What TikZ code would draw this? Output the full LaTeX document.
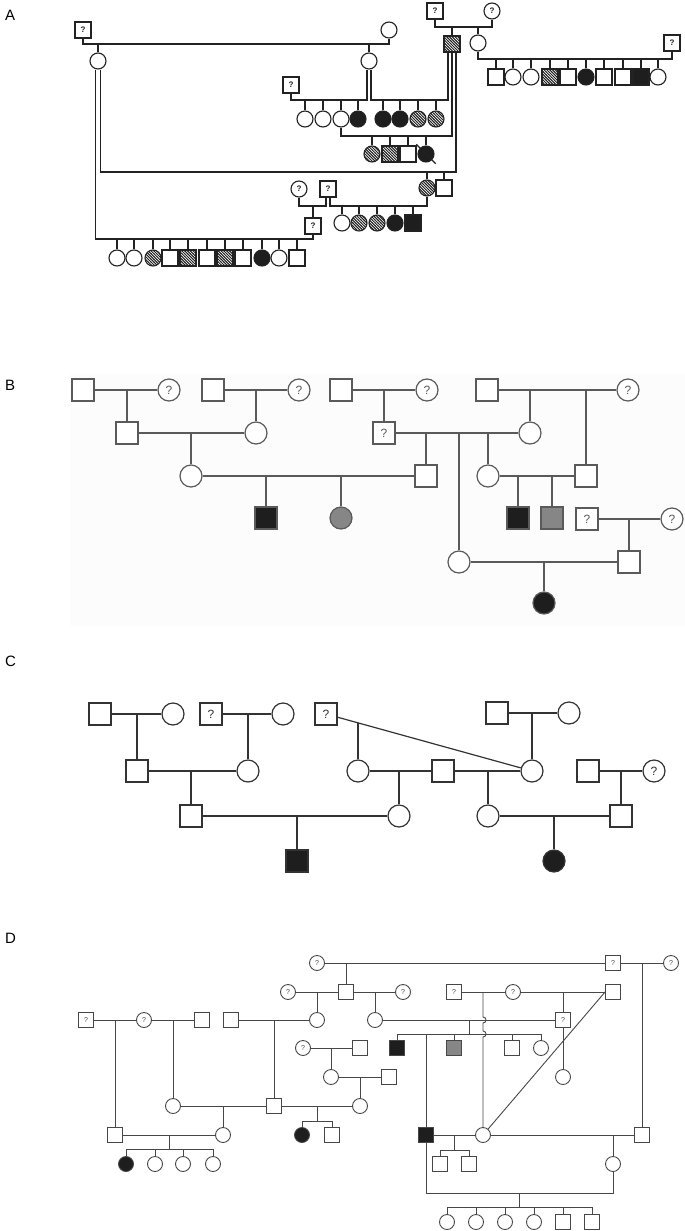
\documentclass[tikz,border=0pt]{standalone}
\usepackage{fontspec}
\setmainfont{Liberation Sans}
\usetikzlibrary{calc,patterns}
\definecolor{InkA}{HTML}{222222}
\definecolor{InkB}{HTML}{5A5A5A}
\definecolor{InkC}{HTML}{333333}
\definecolor{InkD}{HTML}{474747}
\definecolor{Aff}{HTML}{1E1E1E}
\definecolor{Part}{HTML}{868686}
\definecolor{Paper}{HTML}{FCFCFC}
\colorlet{ink}{InkA}
\newcommand{\pedsize}{16pt}
\newcommand{\pedline}{1pt}
\newcommand{\relwidth}{1pt}
\pgfdeclarepatternformonly{hatch}{\pgfqpoint{-1pt}{-1pt}}{\pgfqpoint{4pt}{4pt}}{\pgfqpoint{2.8pt}{2.8pt}}{%
  \pgfsetlinewidth{1pt}%
  \pgfpathmoveto{\pgfqpoint{-0.2pt}{3pt}}%
  \pgfpathlineto{\pgfqpoint{3pt}{-0.2pt}}%
  \pgfusepath{stroke}}
\tikzset{
  person/.style={draw=ink,text=ink,inner sep=0pt,minimum size=\pedsize,line width=\pedline},
  male/.style={person,rectangle,fill=white},
  female/.style={person,circle,fill=white},
  maleblack/.style={person,rectangle,fill=Aff},
  femaleblack/.style={person,circle,fill=Aff},
  malegray/.style={person,rectangle,fill=Part},
  femalegray/.style={person,circle,fill=Part},
  malehatch/.style={person,rectangle,pattern color=ink,pattern=hatch},
  femalehatch/.style={person,circle,pattern color=ink,pattern=hatch},
  rel/.style={draw=ink,line width=\relwidth},
  panel/.style={anchor=base west,inner sep=0pt,font=\fontsize{15}{15}\selectfont}
}

\begin{document}
\begin{tikzpicture}[x=1pt,y=-1pt]
  \useasboundingbox (0,0) rectangle (685,1231);
  \node[panel] (labA) at (5,21) {A};
  \node[panel] (labB) at (5,390) {B};
  \node[panel] (labC) at (5,666) {C};
  \node[panel] (labD) at (5,943) {D};

  % ---------- A ----------
  \begin{scope}[every node/.append style={font=\bfseries\fontsize{8}{8}\selectfont}]
    \colorlet{ink}{InkA}\renewcommand{\pedsize}{16pt}\renewcommand{\pedline}{1.1pt}\renewcommand{\relwidth}{1.4pt}
    \node[male] (aI1) at (83,30) {?};
    \node[female] (aI2) at (389,30) {};
    \node[male] (aI3) at (435,11) {?};
    \node[female] (aI4) at (492,11) {?};
    \node[female] (aII1) at (98,61) {};
    \node[female] (aII2) at (369,61) {};
    \node[malehatch] (aII3) at (452,44) {};
    \node[female] (aII4) at (478,43) {};
    \node[male] (aII5) at (672,43) {?};
    \node[male] (aII6) at (291,85) {?};
    \node[female] (aIVp) at (299,189) {?};
    \node[male] (aIVq) at (328,189) {?};
    \node[male] (aVq) at (313,226) {?};
    \coordinate (aII1l) at ([xshift=-2.5pt]aII1.south);
    \coordinate (aII1r) at ([xshift=2.5pt]aII1.south);
    \coordinate (aII2l) at ([xshift=-2pt]aII2.south);
    \coordinate (aII2r) at ([xshift=2pt]aII2.south);
    \coordinate (aII3a) at ([xshift=-4pt]aII3.south);
    \coordinate (aII3b) at (aII3.south);
    \coordinate (aII3c) at ([xshift=4pt]aII3.south);
    \coordinate (aIVql) at ([xshift=-2pt]aIVq.south);
    \coordinate (aIVqr) at ([xshift=2pt]aIVq.south);
    \coordinate (aLa) at (0,44);
    \coordinate (aLb) at (0,27);
    \coordinate (aLc) at (0,59);
    \coordinate (aLd) at (0,100);
    \coordinate (aLe) at (0,136);
    \coordinate (aLf) at (0,172);
    \coordinate (aLg) at (0,206);
    \coordinate (aLh) at (0,239);
    \draw[rel] (aI1) |- (aLa -| aI2) -- (aI2);
    \draw[rel] (aII1) -- (aII1 |- aLa);
    \draw[rel] (aII2) -- (aII2 |- aLa);
    \draw[rel] (aI3) |- (aLb -| aI4) -- (aI4);
    \draw[rel] (aII3) -- (aII3 |- aLb);
    \draw[rel] (aII4) -- (aII4 |- aLb);
    \draw[rel] (aII4) |- (aLc -| aII5) -- (aII5);
    \foreach \x/\s [count=\i] in {496/male,513/female,531/female,550/malehatch,568/male,586/femaleblack,604/male,623/male,641/maleblack,658/female}{
      \node[\s] (aIIIr\i) at (\x,77) {};
      \draw[rel] (aIIIr\i) -- (aIIIr\i |- aLc);
    }
    \draw[rel] (aII6) |- (aLd -| aII2l) -- (aII2l);
    \foreach \x/\s [count=\i] in {305/female,323/female,341/female,358/femaleblack}{
      \node[\s] (aIIIa\i) at (\x,119) {};
      \draw[rel] (aIIIa\i) -- (aIIIa\i |- aLd);
    }
    \draw[rel] (aII2r) |- (aLd -| aII3a) -- (aII3a);
    \foreach \x/\s [count=\i] in {383/femaleblack,400/femaleblack,418/femalehatch,436/femalehatch}{
      \node[\s] (aIIIb\i) at (\x,119) {};
      \draw[rel] (aIIIb\i) -- (aIIIb\i |- aLd);
    }
    \draw[rel] (aIIIa3) |- (aLe -| aII3b) -- (aII3b);
    \foreach \x/\s [count=\i] in {372/femalehatch,390/malehatch,408/male,426/femaleblack}{
      \node[\s] (aIVc\i) at (\x,154) {};
      \draw[rel] (aIVc\i) -- (aIVc\i |- aLe);
    }
    \draw[rel] ($(aIVc4.center)!1.6!(aIVc4.north west)$) -- ($(aIVc4.center)!1.6!(aIVc4.south east)$);
    \draw[rel] (aII1r) |- (aLf -| aII3c) -- (aII3c);
    \node[femalehatch] (aIVh) at (427,188) {};
    \node[male] (aIVm) at (444,188) {};
    \draw[rel] (aIVh) -- (aIVh |- aLf);
    \draw[rel] (aIVm) -- (aIVm |- aLf);
    \draw[rel] (aIVh) |- (aLg -| aIVqr) -- (aIVqr);
    \draw[rel] (aIVp) |- (aLg -| aIVql) -- (aIVql);
    \draw[rel] (aVq) -- (aVq |- aLg);
    \foreach \x/\s [count=\i] in {342/female,359/femalehatch,377/femalehatch,395/femaleblack,413/maleblack}{
      \node[\s] (aVc\i) at (\x,223) {};
      \draw[rel] (aVc\i) -- (aVc\i |- aLg);
    }
    \draw[rel] (aII1l) |- (aLh -| aVq) -- (aVq);
    \foreach \x/\s [count=\i] in {117/female,134/female,153/femalehatch,170/male,188/malehatch,207/male,225/malehatch,243/male,262/femaleblack,279/female,297/male}{
      \node[\s] (aVIc\i) at (\x,258) {};
      \draw[rel] (aVIc\i) -- (aVIc\i |- aLh);
    }
  \end{scope}

  % ---------- B ----------
  \fill[Paper] (70,374) rectangle (685,626);
  \begin{scope}[every node/.append style={font=\fontsize{12}{12}\selectfont}]
    \colorlet{ink}{InkB}\renewcommand{\pedsize}{22pt}\renewcommand{\pedline}{1.2pt}\renewcommand{\relwidth}{1.1pt}
    \node[male] (bI1) at (83,390) {};
    \node[female] (bI2) at (169,390) {?};
    \node[male] (bI3) at (213,390) {};
    \node[female] (bI4) at (299,390) {?};
    \node[male] (bI5) at (341,390) {};
    \node[female] (bI6) at (427,390) {?};
    \node[male] (bI7) at (487,390) {};
    \node[female] (bI8) at (628,390) {?};
    \node[male] (bII1) at (127,433) {};
    \node[female] (bII2) at (256,433) {};
    \node[male] (bII3) at (384,433) {?};
    \node[female] (bII4) at (530,433) {};
    \node[female] (bIII1) at (191,476) {};
    \node[male] (bIII2) at (426,476) {};
    \node[female] (bIII3) at (488,476) {};
    \node[male] (bIII4) at (586,476) {};
    \node[maleblack] (bIV1) at (266,518) {};
    \node[femalegray] (bIV2) at (341,518) {};
    \node[maleblack] (bIV3) at (518,518) {};
    \node[malegray] (bIV4) at (552,518) {};
    \node[male] (bIV5) at (587,519) {?};
    \node[female] (bIV6) at (672,519) {?};
    \node[female] (bV1) at (459,562) {};
    \node[male] (bV2) at (629,562) {};
    \node[femaleblack] (bVI1) at (544,603) {};
    \draw[rel] (bI1) -- (bI2);
    \draw[rel] (bII1) -- (bII1 |- bI1);
    \draw[rel] (bI3) -- (bI4);
    \draw[rel] (bII2) -- (bII2 |- bI3);
    \draw[rel] (bI5) -- (bI6);
    \draw[rel] (bII3) -- (bII3 |- bI5);
    \draw[rel] (bI7) -- (bI8);
    \draw[rel] (bII4) -- (bII4 |- bI7);
    \draw[rel] (bIII4) -- (bIII4 |- bI7);
    \draw[rel] (bII1) -- (bII2);
    \draw[rel] (bIII1) -- (bIII1 |- bII1);
    \draw[rel] (bII3) -- (bII4);
    \draw[rel] (bIII2) -- (bIII2 |- bII3);
    \draw[rel] (bV1) -- (bV1 |- bII3);
    \draw[rel] (bIII3) -- (bIII3 |- bII3);
    \draw[rel] (bIII1) -- (bIII2);
    \draw[rel] (bIV1) -- (bIV1 |- bIII1);
    \draw[rel] (bIV2) -- (bIV2 |- bIII1);
    \draw[rel] (bIII3) -- (bIII4);
    \draw[rel] (bIV3) -- (bIV3 |- bIII3);
    \draw[rel] (bIV4) -- (bIV4 |- bIII3);
    \draw[rel] (bIV5) -- (bIV6);
    \draw[rel] (bV2) -- (bV2 |- bIV5);
    \draw[rel] (bV1) -- (bV2);
    \draw[rel] (bVI1) -- (bVI1 |- bV1);
  \end{scope}

  % ---------- C ----------
  \begin{scope}[every node/.append style={font=\fontsize{12}{12}\selectfont}]
    \colorlet{ink}{InkC}\renewcommand{\pedsize}{22pt}\renewcommand{\pedline}{1.2pt}\renewcommand{\relwidth}{1.2pt}
    \node[male] (cI1) at (100,714) {};
    \node[female] (cI2) at (173,714) {};
    \node[male] (cI3) at (211,714) {?};
    \node[female] (cI4) at (283,714) {};
    \node[male] (cI5) at (326,714) {?};
    \node[male] (cI6) at (497,713) {};
    \node[female] (cI7) at (569,713) {};
    \node[male] (cII1) at (137,771) {};
    \node[female] (cII2) at (248,771) {};
    \node[female] (cII3) at (358,771) {};
    \node[male] (cII4) at (443,771) {};
    \node[female] (cII5) at (532,771) {};
    \node[male] (cII6) at (588,771) {};
    \node[female] (cII7) at (654,771) {?};
    \node[male] (cIII1) at (191,816) {};
    \node[female] (cIII2) at (399,816) {};
    \node[female] (cIII3) at (488,816) {};
    \node[male] (cIII4) at (621,816) {};
    \node[maleblack] (cIV1) at (297,861) {};
    \node[femaleblack] (cIV2) at (554,861) {};
    \draw[rel] (cI1) -- (cI2);
    \draw[rel] (cII1) -- (cII1 |- cI1);
    \draw[rel] (cI3) -- (cI4);
    \draw[rel] (cII2) -- (cII2 |- cI3);
    \draw[rel] (cI5) -- (cII5);
    \path (cI5.center) -- coordinate[pos=0.155] (cD) (cII5.center);
    \draw[rel] (cII3) -- (cII3 |- cD);
    \draw[rel] (cI6) -- (cI7);
    \draw[rel] (cII5) -- (cII5 |- cI6);
    \draw[rel] (cII1) -- (cII2);
    \draw[rel] (cIII1) -- (cIII1 |- cII1);
    \draw[rel] (cII3) -- (cII4);
    \draw[rel] (cIII2) -- (cIII2 |- cII3);
    \draw[rel] (cII4) -- (cII5);
    \draw[rel] (cIII3) -- (cIII3 |- cII4);
    \draw[rel] (cII6) -- (cII7);
    \draw[rel] (cIII4) -- (cIII4 |- cII6);
    \draw[rel] (cIII1) -- (cIII2);
    \draw[rel] (cIV1) -- (cIV1 |- cIII1);
    \draw[rel] (cIII3) -- (cIII4);
    \draw[rel] (cIV2) -- (cIV2 |- cIII3);
  \end{scope}

  % ---------- D ----------
  \begin{scope}[every node/.append style={font=\fontsize{7}{7}\selectfont}]
    \colorlet{ink}{InkD}\renewcommand{\pedsize}{15pt}\renewcommand{\pedline}{0.9pt}\renewcommand{\relwidth}{0.9pt}
    \node[female] (dI1) at (317,963) {?};
    \node[male] (dI2) at (613,963) {?};
    \node[female] (dI3) at (671,963) {?};
    \node[female] (dII1) at (288,992) {?};
    \node[male] (dII2) at (346,992) {};
    \node[female] (dII3) at (403,992) {?};
    \node[male] (dII4) at (454,992) {?};
    \node[female] (dII5) at (513,992) {?};
    \node[male] (dII6) at (613,992) {};
    \node[male] (dIII1) at (86,1020) {?};
    \node[female] (dIII2) at (144,1020) {?};
    \node[male] (dIII3) at (202,1020) {};
    \node[male] (dIII4) at (231,1020) {};
    \node[female] (dIII5) at (317,1020) {};
    \node[female] (dIII6) at (375,1020) {};
    \node[male] (dIII7) at (563,1020) {?};
    \node[female] (dIV1) at (303,1048) {?};
    \node[male] (dIV2) at (360,1048) {};
    \node[maleblack] (dIV3) at (397,1048) {};
    \node[malegray] (dIV4) at (454,1048) {};
    \node[male] (dIV5) at (512,1048) {};
    \node[female] (dIV6) at (541,1048) {};
    \node[female] (dV1) at (331,1077) {};
    \node[male] (dV2) at (389,1077) {};
    \node[female] (dV3) at (563,1077) {};
    \node[female] (dVI1) at (173,1106) {};
    \node[male] (dVI2) at (274,1106) {};
    \node[female] (dVI3) at (360,1106) {};
    \node[male] (dVII1) at (115,1135) {};
    \node[female] (dVII2) at (223,1135) {};
    \node[femaleblack] (dVII3) at (302,1135) {};
    \node[male] (dVII4) at (332,1135) {};
    \node[maleblack] (dVII5) at (426,1135) {};
    \node[female] (dVII6) at (483,1135) {};
    \node[male] (dVII7) at (642,1135) {};
    \node[female] (dVIII7) at (613,1164) {};
    \coordinate (dS1) at (469,1034);
    \coordinate (dS2) at (317,1121);
    \coordinate (dS3) at (169,1149);
    \coordinate (dS4) at (454,1150);
    \coordinate (dL5) at (0,1193);
    \coordinate (dS5) at (519,1207);
    \draw[rel] (dI1) -- (dI2);
    \draw[rel] (dII2) -- (dII2 |- dI1);
    \draw[rel] (dI2) -- (dI3);
    \draw[rel] (dVII7) -- (dVII7 |- dI2);
    \draw[rel] (dII1) -- (dII2);
    \draw[rel] (dIII5) -- (dIII5 |- dII1);
    \draw[rel] (dII2) -- (dII3);
    \draw[rel] (dIII6) -- (dIII6 |- dII2);
    \draw[rel] (dII4) -- (dII5);
    \draw[rel] (dII5) -- (dII6);
    \draw[rel] (dIII7) -- (dIII7 |- dII5);
    \draw[rel] (dIII7) -- (dV3);
    \draw[rel] (dII6.west) -- (dVII6);
    \draw[rel] (dII4 -| dVII6) -- ($(dIII6 -| dVII6)+(0,-3)$)
      .. controls +(4,0) and +(4,0) .. ($(dIII6 -| dVII6)+(0,3)$)
      -- ($(dS1 -| dVII6)+(0,-3)$)
      .. controls +(4,0) and +(4,0) .. ($(dS1 -| dVII6)+(0,3)$)
      -- (dVII6);
    \draw[rel] (dIII1) -- (dIII2);
    \draw[rel] (dVII1) -- (dVII1 |- dIII1);
    \draw[rel] (dIII2) -- (dIII3);
    \draw[rel] (dVI1) -- (dVI1 |- dIII2);
    \draw[rel] (dIII4) -- (dIII5);
    \draw[rel] (dVI2) -- (dVI2 |- dIII4);
    \draw[rel] (dIII6) -- (dIII7);
    \draw[rel] (dS1) -- (dS1 |- dIII6);
    \draw[rel] (dIV3) |- (dIV6 |- dS1) -- (dIV6);
    \draw[rel] (dIV4) -- (dIV4 |- dS1);
    \draw[rel] (dIV5) -- (dIV5 |- dS1);
    \draw[rel] (dVII5) -- (dVII5 |- dS1);
    \draw[rel] (dIV1) -- (dIV2);
    \draw[rel] (dV1) -- (dV1 |- dIV1);
    \draw[rel] (dV1) -- (dV2);
    \draw[rel] (dVI3) -- (dVI3 |- dV1);
    \draw[rel] (dVI1) -- (dVI2);
    \draw[rel] (dVII2) -- (dVII2 |- dVI1);
    \draw[rel] (dVI2) -- (dVI3);
    \draw[rel] (dS2) -- (dS2 |- dVI2);
    \draw[rel] (dVII3) |- (dS2) -| (dVII4);
    \draw[rel] (dVII1) -- (dVII2);
    \draw[rel] (dS3) -- (dS3 |- dVII1);
    \foreach \x/\s [count=\i] in {126/femaleblack,155/female,183/female,213/female}{
      \node[\s] (dVIIIa\i) at (\x,1164) {};
      \draw[rel] (dVIIIa\i) -- (dVIIIa\i |- dS3);
    }
    \draw[rel] (dVIIIa1 |- dS3) -- (dVIIIa4 |- dS3);
    \draw[rel] (dVII5) -- (dVII6);
    \draw[rel] (dS4) -- (dS4 |- dVII5);
    \node[male] (dVIIIb1) at (440,1164) {};
    \node[male] (dVIIIb2) at (469,1164) {};
    \draw[rel] (dVIIIb1) |- (dS4) -| (dVIIIb2);
    \draw[rel] (dVII6) -- (dVII7);
    \draw[rel] (dVIII7) -- (dVIII7 |- dVII6);
    \draw[rel] (dVII5) |- (dL5 -| dVIII7) -- (dVIII7);
    \draw[rel] (dS5) -- (dS5 |- dL5);
    \foreach \x/\s [count=\i] in {447/female,476/female,505/female,534/female,563/male,592/male}{
      \node[\s] (dIX\i) at (\x,1222) {};
      \draw[rel] (dIX\i) -- (dIX\i |- dS5);
    }
    \draw[rel] (dIX1 |- dS5) -- (dIX6 |- dS5);
  \end{scope}
\end{tikzpicture}
\end{document}
